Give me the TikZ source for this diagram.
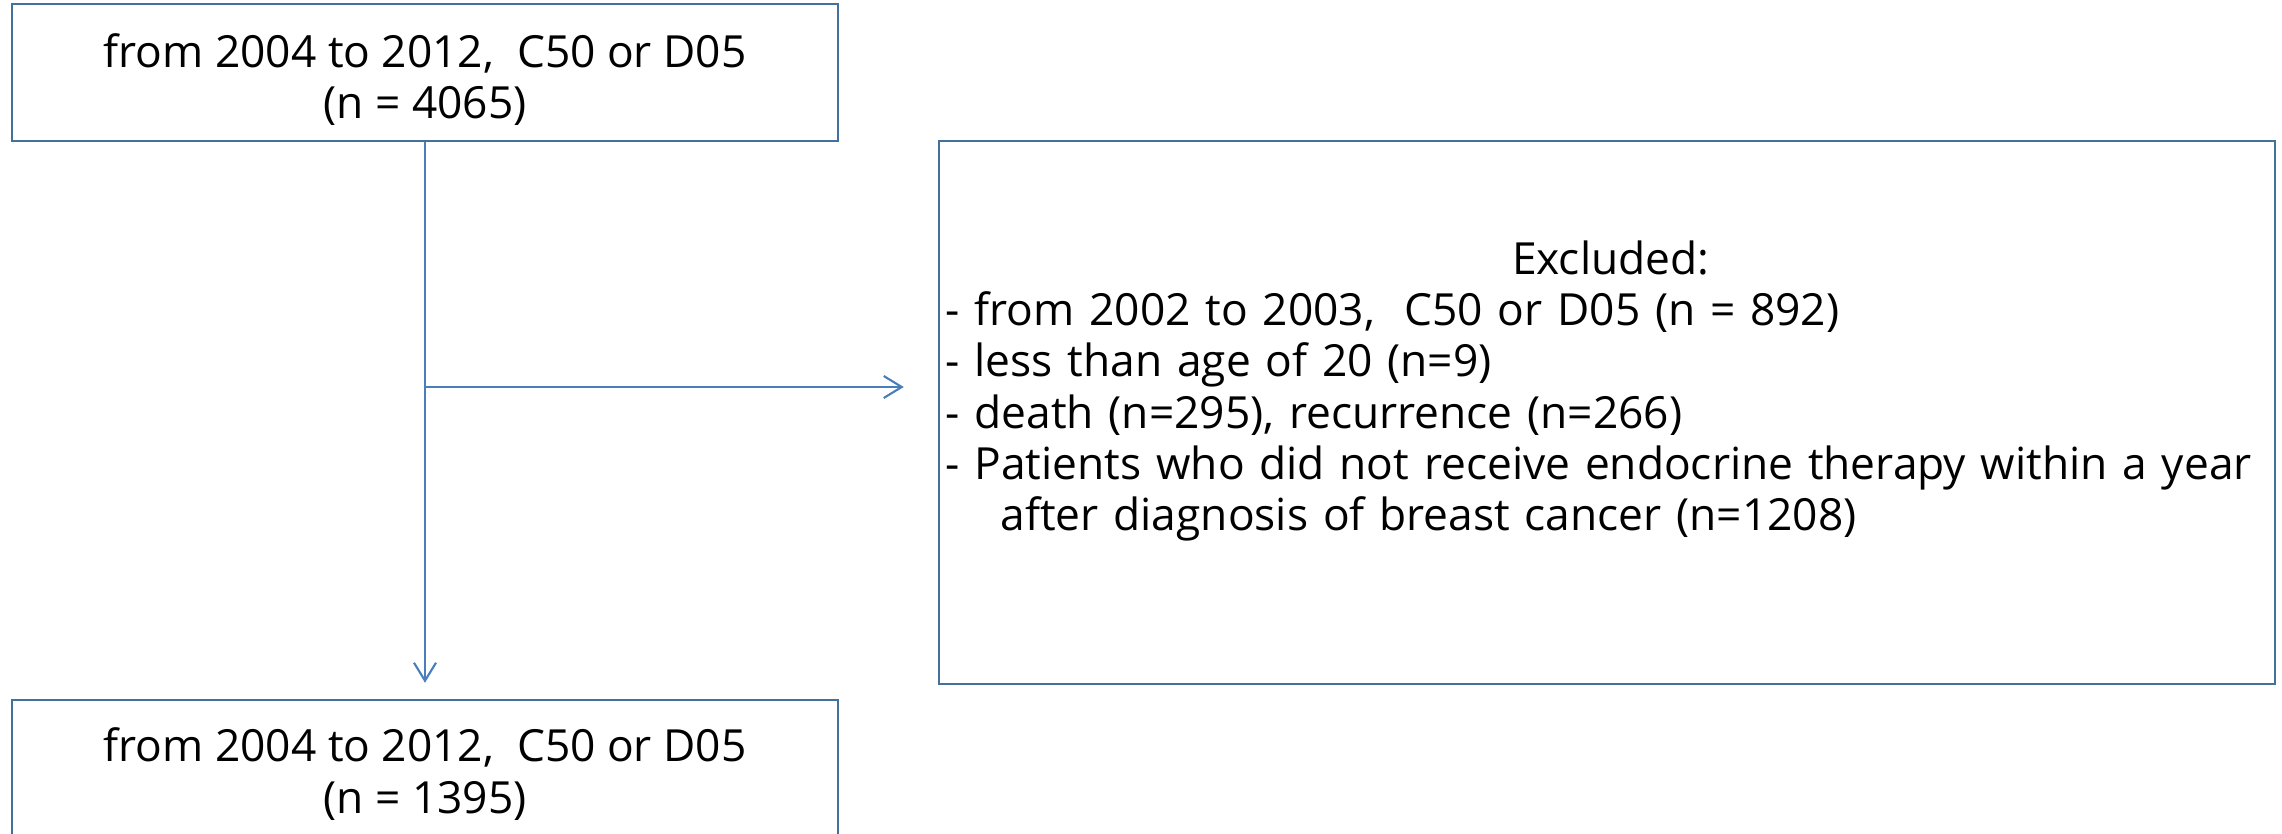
\documentclass[tikz,border=0pt]{standalone}
\usepackage{fontspec}
\setmainfont{Open Sans}
\usetikzlibrary{arrows.meta}
\definecolor{bordoblu}{HTML}{41719C}
\definecolor{lineablu}{HTML}{4A7EBB}
\begin{document}
\begin{tikzpicture}[font=\fontsize{12.6}{14.6}\selectfont]

        % Stili per riquadri, testi e frecce
        \tikzset{riquadro/.style={draw=bordoblu, line width=0.7pt, inner sep=0pt},
                 testo/.style={inner sep=0pt, align=center},
                 arco/.style={draw=lineablu, line width=0.6pt, -{Straight Barb[length=1.8mm, width=2.2mm]}}}

        % Area del disegno (proporzioni dell'originale)
        \useasboundingbox (0,0) rectangle (22.82,8.34);
        \clip (0,0) rectangle (22.82,8.34);

        % Riquadro iniziale
        \node[riquadro, minimum width=8.26cm, minimum height=1.37cm] (inizio) at (4.25,7.615) {};
        \node[testo] (testoInizio) at ([yshift=-0.07cm]inizio.center)
            {from 2004 to 2012, \ C50 or D05\\(n = 4065)};

        % Riquadro finale (tagliato dal bordo inferiore)
        \node[riquadro, minimum width=8.26cm, minimum height=1.48cm] (fine) at (4.25,0.60) {};
        \node[testo] (testoFine) at (fine.center)
            {from 2004 to 2012, \ C50 or D05\\(n = 1395)};

        % Riquadro degli esclusi
        \node[riquadro, minimum width=13.36cm, minimum height=5.43cm] (esclusi) at (16.07,4.215) {};
        \node[testo, anchor=west, text width=13.3cm, align=left] (testoEsclusi) at (9.45,4.43)
            {\hspace*{\fill}Excluded:\hspace*{\fill}\null\\
             - from 2002 to 2003, \ C50 or D05 (n = 892)\\
             - less than age of 20 (n=9)\\
             - death (n=295), recurrence (n=266)\\
             - Patients who did not receive endocrine therapy within a year\\
             \hspace*{0.55cm}after diagnosis of breast cancer (n=1208)};

        % Frecce
        \coordinate (diramazione) at (inizio.south |- 0,4.47);
        \draw[arco, shorten >=0.16cm] (inizio.south) -- (fine.north);
        \draw[arco, shorten >=0.34cm] (diramazione) -- (diramazione -| esclusi.west);

\end{tikzpicture}
\end{document}
